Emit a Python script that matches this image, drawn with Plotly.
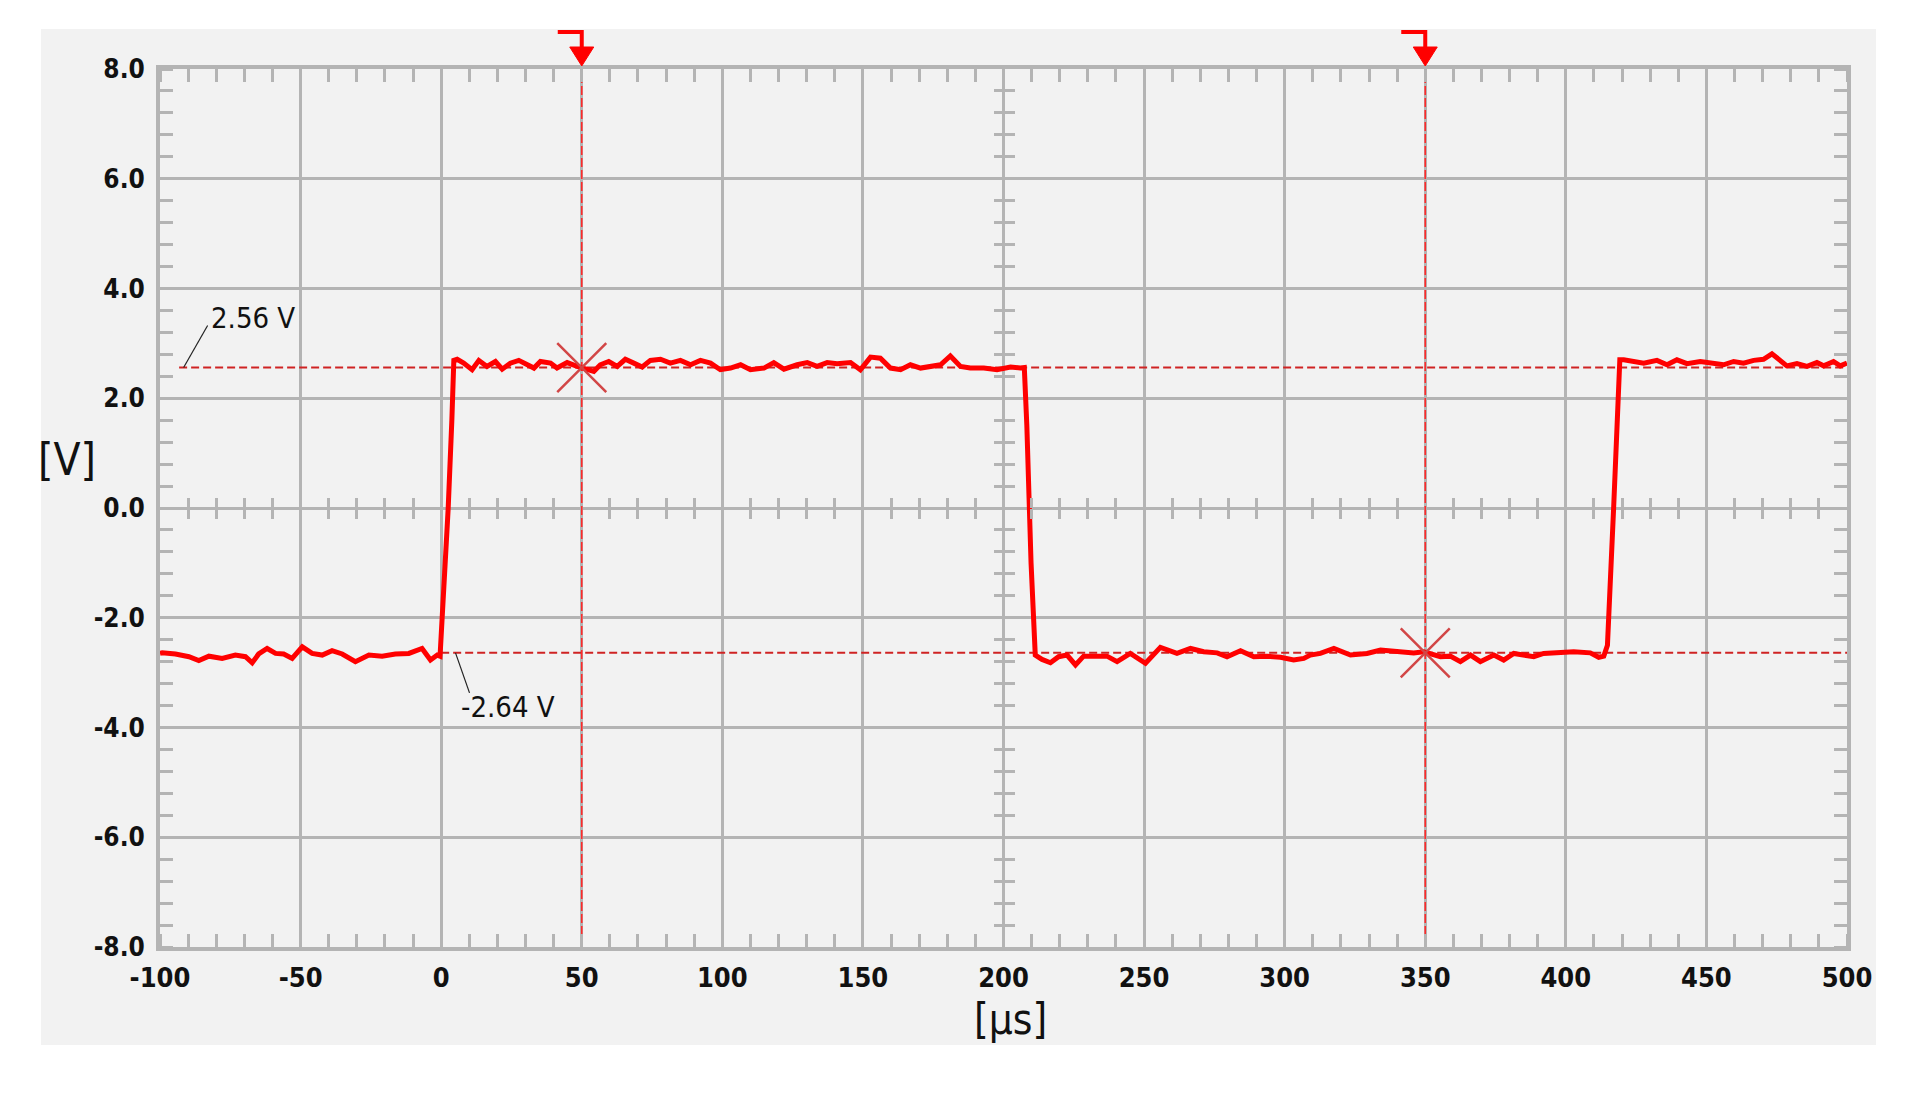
import plotly.graph_objects as go

# ---------------- data ----------------
T_US = [
    -100.0, -99.2, -94.5, -89.7, -86.2, -82.6, -77.9, -73.2, -69.6, -67.2,
    -64.9, -61.9, -58.9, -56.0, -53.0, -49.4, -45.9, -42.3, -38.8, -35.2,
    -30.5, -25.7, -21.0, -16.3, -11.5, -6.8, -3.8, -1.4, -0.4,
    1.0, 2.5, 3.8, 4.5,
    5.7, 8.0, 11.0, 13.4, 16.3, 19.3, 21.7, 24.6, 27.6, 30.6,
    33.0, 35.3, 38.9, 41.2, 44.8, 48.4, 50.7, 54.3, 56.6, 59.6,
    62.6, 65.5, 68.5, 71.5, 74.4, 78.0, 81.5, 85.1, 88.7, 92.2,
    95.8, 99.3, 102.9, 106.5, 110.0, 114.8, 118.3, 121.9, 126.6, 130.2,
    133.7, 137.3, 140.8, 145.6, 149.1, 152.7, 156.2, 159.8, 163.4, 166.9,
    170.5, 174.0, 177.6, 181.1, 184.7, 188.2, 193.0, 197.7, 202.5, 206.0,
    207.4,
    208.3, 209.8, 211.3,
    213.7, 216.7, 219.6, 222.6, 225.6, 228.5, 233.3, 236.8, 240.4, 245.1,
    250.5, 255.8, 261.7, 266.5, 271.2, 276.0, 279.5, 284.3, 289.0, 293.7,
    298.5, 303.2, 306.8, 309.1, 312.7, 317.5, 323.4, 329.3, 334.1, 341.2,
    345.9, 349.5, 355.4, 358.9, 362.5, 366.1, 369.6, 374.4, 377.9, 381.5,
    388.6, 392.1, 396.9, 402.8, 408.7, 411.7, 413.5,
    414.8, 417.0, 418.5, 419.2,
    420.6, 426.5, 427.7, 432.4, 436.0, 439.5, 443.1, 447.8, 452.6, 456.1,
    459.7, 463.2, 466.8, 470.3, 473.3, 476.3, 478.6, 482.2, 485.8, 489.3,
    491.7, 495.2, 497.6, 500.0,
]
V_VOLTS = [
    -2.65, -2.64, -2.66, -2.71, -2.78, -2.70, -2.74, -2.68, -2.71, -2.82,
    -2.66, -2.56, -2.65, -2.66, -2.74, -2.53, -2.65, -2.68, -2.60, -2.66,
    -2.80, -2.68, -2.70, -2.66, -2.65, -2.56, -2.77, -2.68, -2.70,
    -1.50, 0.00, 1.60, 2.69,
    2.71, 2.64, 2.52, 2.69, 2.58, 2.67, 2.53, 2.64, 2.69, 2.61,
    2.55, 2.67, 2.64, 2.55, 2.65, 2.58, 2.55, 2.49, 2.61, 2.67,
    2.58, 2.71, 2.64, 2.57, 2.69, 2.71, 2.64, 2.69, 2.61, 2.69,
    2.64, 2.52, 2.55, 2.61, 2.52, 2.55, 2.65, 2.53, 2.61, 2.65,
    2.58, 2.65, 2.63, 2.65, 2.52, 2.75, 2.73, 2.55, 2.52, 2.61,
    2.55, 2.58, 2.61, 2.77, 2.58, 2.55, 2.55, 2.52, 2.57, 2.55,
    2.56,
    1.50, -1.00, -2.68,
    -2.76, -2.82, -2.71, -2.68, -2.86, -2.70, -2.71, -2.70, -2.80, -2.65,
    -2.83, -2.54, -2.65, -2.56, -2.62, -2.64, -2.71, -2.60, -2.71, -2.70,
    -2.72, -2.77, -2.74, -2.68, -2.65, -2.56, -2.68, -2.65, -2.59, -2.62,
    -2.64, -2.62, -2.71, -2.70, -2.80, -2.68, -2.80, -2.68, -2.77, -2.65,
    -2.71, -2.65, -2.64, -2.62, -2.64, -2.72, -2.70,
    -2.50, 0.00, 2.00, 2.70,
    2.70, 2.64, 2.64, 2.69, 2.61, 2.70, 2.63, 2.67, 2.63, 2.61,
    2.67, 2.64, 2.69, 2.71, 2.81, 2.69, 2.59, 2.63, 2.58, 2.65,
    2.59, 2.67, 2.59, 2.64,
]

X_TICKS = [-100, -50, 0, 50, 100, 150, 200, 250, 300, 350, 400, 450, 500]
X_TICK_LABELS = ["-100", "-50", "0", "50", "100", "150", "200", "250",
                 "300", "350", "400", "450", "500"]
Y_TICKS = [8, 6, 4, 2, 0, -2, -4, -6, -8]
Y_TICK_LABELS = ["8.0", "6.0", "4.0", "2.0", "0.0", "-2.0", "-4.0", "-6.0", "-8.0"]

CURSOR_T = [50, 350]              # vertical cursors [µs]
CURSOR_V = [2.56, -2.64]          # horizontal cursors [V]
CURSOR_LABELS = ["2.56 V", "-2.64 V"]
H_CURSOR_START = [-93.2, 0.0]     # where the horizontal cursor lines begin [µs]
LABEL_ANCHOR_T = [-91.6, 5.1]     # where the label leaders touch the cursor [µs]

X_TITLE = "[µs]"
Y_TITLE = "[V]"

# ---------------- style ----------------
FONT = "DejaVu Sans Condensed, DejaVu Sans, sans-serif"
GRID = "#b4b4b4"
BG = "#f2f2f2"
RED = "#ff0000"
CURSOR_RED_H = "#cf2323"
CURSOR_RED_V = "#ff2a2a"
STAR_RED = "#d24646"
TXT = "#111111"

x_range = [X_TICKS[0], X_TICKS[-1]]
y_range = [Y_TICKS[-1], Y_TICKS[0]]

fig = go.Figure()

fig.add_trace(go.Scatter(
    x=T_US, y=V_VOLTS, mode="lines",
    line=dict(color=RED, width=5), hoverinfo="skip", showlegend=False))

fig.add_trace(go.Scatter(
    x=CURSOR_T, y=CURSOR_V, mode="markers",
    marker=dict(symbol="x-thin", size=49, color=STAR_RED,
                line=dict(color=STAR_RED, width=2.5)),
    cliponaxis=False, hoverinfo="skip", showlegend=False))

# invisible traces so the overlay axes (centre-line ticks) are drawn
for xa, ya in [("x2", "y"), ("x3", "y"), ("x", "y2"), ("x", "y3")]:
    fig.add_trace(go.Scatter(
        x=[x_range[0]], y=[y_range[0]], xaxis=xa, yaxis=ya, mode="markers",
        marker=dict(opacity=0), hoverinfo="skip", showlegend=False))

shapes = []
# grey panel behind the whole chart
shapes.append(dict(type="rect", xref="paper", yref="paper",
                   x0=-0.0705, x1=1.0172, y0=-0.1117, y1=1.0456,
                   fillcolor=BG, line=dict(width=0), layer="below"))

for start, v in zip(H_CURSOR_START, CURSOR_V):
    shapes.append(dict(type="line", xref="x", yref="y",
                       x0=start, x1=x_range[1], y0=v, y1=v,
                       line=dict(color=CURSOR_RED_H, width=2, dash="8px,4px"),
                       layer="between"))
for t in CURSOR_T:
    shapes.append(dict(type="line", xref="x", yref="y",
                       x0=t, x1=t, y0=y_range[0], y1=y_range[1],
                       line=dict(color=CURSOR_RED_V, width=1.6, dash="9px,3px"),
                       layer="between"))
    # trigger hook + arrow above the plot
    shapes.append(dict(type="path", xref="x", yref="paper",
                       xsizemode="pixel", ysizemode="pixel",
                       xanchor=t, yanchor=1,
                       path="M -24,37 L 0,37 L 0,20",
                       line=dict(color=RED, width=4), layer="above"))
    shapes.append(dict(type="path", xref="x", yref="paper",
                       xsizemode="pixel", ysizemode="pixel",
                       xanchor=t, yanchor=1,
                       path="M -12,22 L 12,22 L 0,3 Z",
                       fillcolor=RED, line=dict(color=RED, width=1), layer="above"))

# leader lines of the cursor value labels
LEADERS = [(24, 42), (14, -40)]
for t, v, (dx, dy) in zip(LABEL_ANCHOR_T, CURSOR_V, LEADERS):
    shapes.append(dict(type="line", xref="x", yref="y",
                       xsizemode="pixel", ysizemode="pixel",
                       xanchor=t, yanchor=v, x0=0, y0=0, x1=dx, y1=dy,
                       line=dict(color="#222222", width=1.2), layer="above"))

annotations = []
LABEL_SHIFTS = [(25, 50), (3, -54)]
for t, v, txt, (sx, sy) in zip(LABEL_ANCHOR_T, CURSOR_V, CURSOR_LABELS, LABEL_SHIFTS):
    annotations.append(dict(x=t, y=v, xref="x", yref="y", text=txt,
                            showarrow=False, xanchor="left", yanchor="middle",
                            xshift=sx, yshift=sy,
                            font=dict(family=FONT, size=29, color=TXT)))
annotations.append(dict(x=-0.0551, y=0.5547, xref="paper", yref="paper",
                        text=Y_TITLE, showarrow=False, xanchor="center",
                        yanchor="middle", font=dict(family=FONT, size=44, color=TXT)))
annotations.append(dict(x=0.5039, y=-0.0825, xref="paper", yref="paper",
                        text=X_TITLE, showarrow=False, xanchor="center",
                        yanchor="middle", font=dict(family=FONT, size=42, color=TXT)))

axis_common = dict(showgrid=True, gridcolor=GRID, gridwidth=3, zeroline=False,
                   showline=True, linecolor=GRID, linewidth=4, mirror="ticks",
                   ticks="", fixedrange=True)

center_common = dict(showgrid=False, zeroline=False, showline=False,
                     showticklabels=False, ticks="", anchor="free",
                     position=0.5, fixedrange=True)

fig.update_layout(
    width=1921, height=1095,
    margin=dict(l=160, r=74, t=69, b=148, pad=0),
    paper_bgcolor="#ffffff", plot_bgcolor=BG,
    showlegend=False,
    xaxis=dict(range=x_range, tickmode="array", tickvals=X_TICKS,
               ticktext=X_TICK_LABELS, ticklabelstandoff=4,
               tickfont=dict(family=FONT, size=27, color=TXT, weight="bold"),
               minor=dict(dtick=10, tick0=0, ticks="inside", ticklen=13,
                          tickwidth=3, tickcolor=GRID, showgrid=False),
               **axis_common),
    yaxis=dict(range=y_range, tickmode="array", tickvals=Y_TICKS,
               ticktext=Y_TICK_LABELS, ticklabelstandoff=6,
               tickfont=dict(family=FONT, size=26, color=TXT, weight="bold"),
               minor=dict(dtick=0.4, tick0=0, ticks="inside", ticklen=13,
                          tickwidth=3, tickcolor=GRID, showgrid=False),
               **axis_common),
    xaxis2=dict(overlaying="x", range=x_range, side="bottom",
                tickmode="linear", tick0=0, dtick=50,
                minor=dict(dtick=10, tick0=0, ticks="inside", ticklen=10,
                           tickwidth=3, tickcolor=GRID, showgrid=False),
                **center_common),
    xaxis3=dict(overlaying="x", range=x_range, side="bottom",
                tickmode="linear", tick0=0, dtick=50,
                minor=dict(dtick=10, tick0=0, ticks="outside", ticklen=10,
                           tickwidth=3, tickcolor=GRID, showgrid=False),
                **center_common),
    yaxis2=dict(overlaying="y", range=y_range, side="left",
                tickmode="linear", tick0=0, dtick=2,
                minor=dict(dtick=0.4, tick0=0, ticks="inside", ticklen=10,
                           tickwidth=3, tickcolor=GRID, showgrid=False),
                **center_common),
    yaxis3=dict(overlaying="y", range=y_range, side="left",
                tickmode="linear", tick0=0, dtick=2,
                minor=dict(dtick=0.4, tick0=0, ticks="outside", ticklen=10,
                           tickwidth=3, tickcolor=GRID, showgrid=False),
                **center_common),
    shapes=shapes,
    annotations=annotations,
)

fig.write_html("out.html", config={"displayModeBar": False, "staticPlot": True},
               post_script="document.body.style.margin='0';")
